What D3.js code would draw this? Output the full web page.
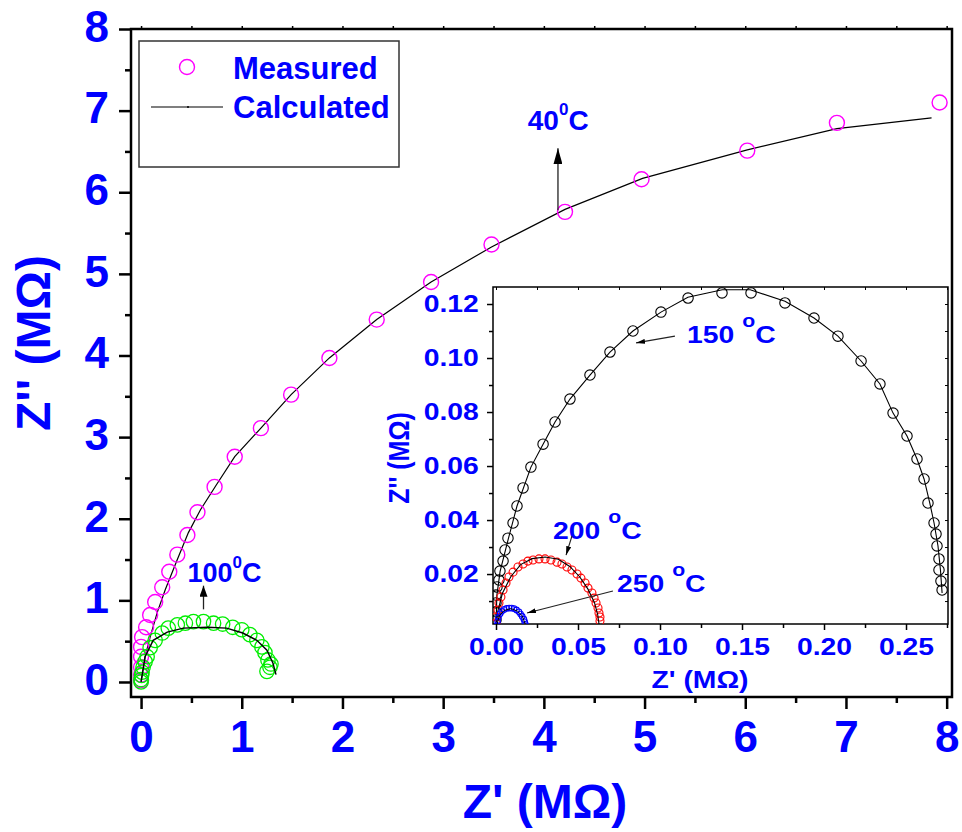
<!DOCTYPE html>
<html>
<head>
<meta charset="utf-8">
<script src="https://cdn.jsdelivr.net/npm/d3@7"></script>
<style>
  body { margin: 0; background: #fff; }
  svg text { font-family: "Liberation Sans", Arial, Helvetica, sans-serif; font-weight: bold; fill: #0000ff; }
</style>
</head>
<body>
<svg id="chart" width="962" height="832"></svg>
<script>
// ---------- Nyquist data, Z' and Z'' in MΩ ----------
// 40 °C
const meas40Re = [0.00,0.00,0.00,0.00,0.00,0.01,0.05,0.09,0.14,0.21,0.28,0.36,0.46,0.56,0.73,0.93,1.19,1.49,1.87,2.34,2.88,3.48,4.21,4.97,6.02,6.91,7.93];
const meas40Im = [0.02,0.09,0.18,0.31,0.43,0.55,0.67,0.82,0.98,1.16,1.35,1.56,1.80,2.08,2.39,2.76,3.11,3.52,3.97,4.44,4.90,5.36,5.76,6.16,6.51,6.85,7.10];
const calc40Re = [0,0.04,0.09,0.16,0.24,0.36,0.47,0.59,0.75,0.93,1.19,1.49,1.87,2.34,2.88,3.48,4.21,4.98,6.02,6.91,7.85];
const calc40Im = [0,0.31,0.55,0.85,1.13,1.50,1.83,2.11,2.42,2.76,3.11,3.52,3.97,4.44,4.90,5.33,5.79,6.17,6.52,6.78,6.91];
// 100 °C
const meas100Re = [0.00,0.00,0.005,0.01,0.02,0.04,0.06,0.09,0.14,0.21,0.27,0.36,0.44,0.52,0.62,0.72,0.81,0.91,1.00,1.08,1.15,1.20,1.23,1.26,1.28,1.29,1.25];
const meas100Im = [0.00,0.03,0.08,0.12,0.18,0.25,0.31,0.42,0.51,0.60,0.66,0.70,0.72,0.74,0.74,0.72,0.71,0.67,0.64,0.58,0.51,0.43,0.36,0.27,0.18,0.22,0.13];
const calc100Re = [0,0.04,0.12,0.26,0.42,0.66,0.85,1.01,1.15,1.25,1.31,1.34];
const calc100Im = [0,0.31,0.51,0.61,0.66,0.67,0.66,0.60,0.51,0.39,0.23,0.09];
// 150 °C (inset)
const meas150Re = [0.000,0.000,0.000,0.000,0.0006,0.0018,0.0024,0.0043,0.0055,0.0073,0.0104,0.0128,0.0165,0.0213,0.0287,0.0360,0.0451,0.0573,0.0695,0.0835,0.1006,0.1171,0.1378,0.1555,0.1762,0.1939,0.2085,0.2226,0.2341,0.2421,0.2506,0.2567,0.2610,0.2634,0.2671,0.2683,0.2689,0.2701,0.2701,0.2713,0.2720];
const meas150Im = [0.003,0.006,0.0093,0.0122,0.0152,0.0178,0.0211,0.0248,0.0289,0.0333,0.0389,0.0452,0.0519,0.0596,0.0681,0.0763,0.0848,0.0937,0.1022,0.1100,0.1170,0.1222,0.1241,0.1241,0.1204,0.1148,0.1081,0.0989,0.0904,0.0796,0.0711,0.0626,0.0552,0.0463,0.0389,0.0348,0.0304,0.0256,0.0215,0.0174,0.0141];
const calc150Re = [0,0.0005,0.0025,0.0075,0.0128,0.0213,0.0287,0.0360,0.0451,0.0573,0.0695,0.0835,0.1006,0.1170,0.1380,0.1550,0.1762,0.1939,0.2085,0.2226,0.2341,0.2421,0.2506,0.2567,0.2610,0.2645,0.2671,0.2695,0.2710,0.2720];
const calc150Im = [0,0.0120,0.0210,0.0330,0.0452,0.0596,0.0681,0.0763,0.0848,0.0937,0.1022,0.1100,0.1170,0.1225,0.1253,0.1253,0.1210,0.1148,0.1081,0.0989,0.0904,0.0796,0.0711,0.0626,0.0552,0.0463,0.0389,0.0304,0.0215,0.0130];
// 200 °C (inset)
const meas200Re = [0.000,0.000,0.0012,0.0018,0.0030,0.0043,0.0061,0.0079,0.0104,0.0134,0.0165,0.0195,0.0226,0.0262,0.0299,0.0335,0.0372,0.0402,0.0433,0.0463,0.0494,0.0518,0.0543,0.0561,0.0585,0.0598,0.0610,0.0622,0.0628,0.0634,0.0634];
const meas200Im = [0.0019,0.0041,0.0067,0.0093,0.0115,0.0141,0.0167,0.0189,0.0207,0.0226,0.0237,0.0248,0.0252,0.0256,0.0256,0.0252,0.0244,0.0237,0.0226,0.0215,0.0200,0.0185,0.0167,0.0148,0.0130,0.0111,0.0093,0.0074,0.0056,0.0041,0.0026];
const calc200Re = [0,0.001,0.004,0.009,0.015,0.022,0.030,0.038,0.045,0.051,0.056,0.060,0.062,0.0628];
const calc200Im = [0,0.006,0.013,0.019,0.0235,0.0257,0.0263,0.0255,0.0228,0.0190,0.0145,0.0095,0.0050,0.0015];
// 250 °C (inset)
const meas250Re = [0.0005,0.001,0.0015,0.0025,0.0035,0.005,0.0065,0.008,0.0095,0.011,0.0125,0.014,0.015,0.016,0.017,0.0175,0.018];
const meas250Im = [0.0010,0.0025,0.0040,0.0053,0.0062,0.0069,0.0073,0.0074,0.0074,0.0072,0.0067,0.0060,0.0052,0.0043,0.0033,0.0023,0.0013];
const calc250Re = [0,0.002,0.005,0.009,0.013,0.016,0.0178];
const calc250Im = [0,0.0045,0.0065,0.0072,0.0063,0.0045,0.0015];

// Axis ticks
const mainTicks = [0,1,2,3,4,5,6,7,8];
const mainMinor = [0.5,1.5,2.5,3.5,4.5,5.5,6.5,7.5];
const insetXTicks = [0,0.05,0.10,0.15,0.20,0.25];
const insetXMinor = [0.025,0.075,0.125,0.175,0.225,0.275];
const insetYTicks = [0.02,0.04,0.06,0.08,0.10,0.12];
const insetYMinor = [0.01,0.03,0.05,0.07,0.09,0.11];

const pts = (re, im) => re.map((v, i) => [v, im[i]]);

const svg = d3.select('#chart');
const BLUE = '#0000ff';

// arrowhead markers
const defs = svg.append('defs');
function arrowMarker(id, len, wid) {
  defs.append('marker').attr('id', id)
    .attr('markerUnits', 'userSpaceOnUse')
    .attr('viewBox', `0 0 ${len} ${wid}`)
    .attr('refX', len).attr('refY', wid / 2)
    .attr('markerWidth', len).attr('markerHeight', wid)
    .attr('orient', 'auto')
    .append('path').attr('d', `M0,0L${len},${wid/2}L0,${wid}Z`).attr('fill', '#000');
}
arrowMarker('arrowBig', 16, 9);
arrowMarker('arrowMid', 11, 8);
arrowMarker('arrowSmall', 9, 5);

// ---------- main plot ----------
const x = d3.scaleLinear().domain([-0.1, 8.053]).range([131, 952]);
const y = d3.scaleLinear().domain([-0.184, 8]).range([697, 29]);

const main = svg.append('g');

function styleAxis(g, width) {
  g.select('.domain').remove();
  g.selectAll('line').attr('stroke', '#000').attr('stroke-width', width);
}

main.append('g').attr('transform', `translate(${x.range()[0]},0)`)
  .call(d3.axisLeft(y).tickValues(mainTicks).tickSize(12).tickPadding(10).tickFormat(d3.format('d')))
  .call(g => styleAxis(g, 2.5))
  .call(g => g.selectAll('text').attr('font-size', 44).attr('dy', '0.28em').style('font-family', null));
main.append('g').attr('transform', `translate(${x.range()[0]},0)`)
  .call(d3.axisLeft(y).tickValues(mainMinor).tickSize(6).tickFormat(''))
  .call(g => styleAxis(g, 2.5));

main.append('g').attr('transform', `translate(0,${y.range()[0]})`)
  .call(d3.axisBottom(x).tickValues(mainTicks).tickSize(12).tickPadding(12).tickFormat(d3.format('d')))
  .call(g => styleAxis(g, 2.5))
  .call(g => g.selectAll('text').attr('font-size', 44));
main.append('g').attr('transform', `translate(0,${y.range()[0]})`)
  .call(d3.axisBottom(x).tickValues(mainMinor).tickSize(6).tickFormat(''))
  .call(g => styleAxis(g, 2.5));

main.append('g').attr('transform', `translate(0,${y.range()[1]})`)
  .call(d3.axisTop(x).tickValues(mainTicks.concat(mainMinor)).tickSize(3).tickFormat(''))
  .call(g => styleAxis(g, 1.5));

main.append('rect')
  .attr('x', x.range()[0]).attr('y', y.range()[1])
  .attr('width', x.range()[1] - x.range()[0]).attr('height', y.range()[0] - y.range()[1])
  .attr('fill', 'none').attr('stroke', '#000').attr('stroke-width', 2.5);

// axis titles
main.append('text').attr('x', 545).attr('y', 818).attr('text-anchor', 'middle')
  .attr('font-size', 48).text("Z' (M\u03A9)");
main.append('text').attr('transform', 'translate(50,343) rotate(-90)').attr('text-anchor', 'middle')
  .attr('font-size', 48).text("Z'' (M\u03A9)");

const lineMain = d3.line().x(d => x(d[0])).y(d => y(d[1]));

main.append('path').datum(pts(calc40Re, calc40Im)).attr('d', lineMain)
  .attr('fill', 'none').attr('stroke', '#000').attr('stroke-width', 1.2);
main.append('g').selectAll('circle').data(pts(meas40Re, meas40Im)).join('circle')
  .attr('cx', d => x(d[0])).attr('cy', d => y(d[1])).attr('r', 7.5)
  .attr('fill', 'none').attr('stroke', '#ff00ff').attr('stroke-width', 1.4);

main.append('g').selectAll('circle').data(pts(meas100Re, meas100Im)).join('circle')
  .attr('cx', d => x(d[0])).attr('cy', d => y(d[1])).attr('r', 7.2)
  .attr('fill', 'none').attr('stroke', '#00ee00').attr('stroke-width', 1.3);
main.append('path').datum(pts(calc100Re, calc100Im)).attr('d', lineMain)
  .attr('fill', 'none').attr('stroke', '#000').attr('stroke-width', 1.4);

// temperature annotations
function tempLabel(parent, px, py, num, sup, size, supSize, rise, stretch, gap) {
  const t = parent.append('text')
    .attr('transform', `translate(${px},${py}) scale(${stretch},1)`)
    .attr('font-size', size);
  t.append('tspan').text(num);
  t.append('tspan').attr('font-size', supSize).attr('dy', -rise).attr('dx', gap || 0).text(sup);
  t.append('tspan').attr('font-size', size).attr('dy', rise).text('C');
  return t;
}
function arrow(parent, x1, y1, x2, y2, marker, w) {
  parent.append('line').attr('x1', x1).attr('y1', y1).attr('x2', x2).attr('y2', y2)
    .attr('stroke', '#222').attr('stroke-width', w || 1.2).attr('marker-end', `url(#${marker})`);
}

tempLabel(main, x(3.84), y(6.76), '40', '0', 28, 17, 15, 1, 0);
arrow(main, x(4.14), y(5.78), x(4.14), y(6.54), 'arrowBig', 1.3);
tempLabel(main, x(0.46), y(1.23), '100', '0', 27, 17, 14, 1, 0);
arrow(main, x(0.62), y(0.89), x(0.62), y(1.18), 'arrowMid', 1.3);

// legend
const leg = svg.append('g');
leg.append('rect').attr('x', 139).attr('y', 41).attr('width', 260).attr('height', 126)
  .attr('fill', '#fff').attr('stroke', '#333').attr('stroke-width', 1.5);
leg.append('circle').attr('cx', 187).attr('cy', 67).attr('r', 7.5)
  .attr('fill', 'none').attr('stroke', '#ff00ff').attr('stroke-width', 1.4);
leg.append('line').attr('x1', 151).attr('x2', 223).attr('y1', 107).attr('y2', 107)
  .attr('stroke', '#555').attr('stroke-width', 1.5);
leg.append('circle').attr('cx', 188).attr('cy', 107).attr('r', 1).attr('fill', '#000');
leg.append('text').attr('x', 233).attr('y', 79).attr('font-size', 31).text('Measured');
leg.append('text').attr('x', 233).attr('y', 118).attr('font-size', 31).text('Calculated');

// ---------- inset ----------
const xi = d3.scaleLinear().domain([-0.00183, 0.2756]).range([493, 948]);
const yi = d3.scaleLinear().domain([0.0015, 0.1263]).range([624, 287]);
const K = 1.18; // horizontal stretch of inset lettering

const inset = svg.append('g');
inset.append('rect')
  .attr('x', xi.range()[0]).attr('y', yi.range()[1])
  .attr('width', xi.range()[1] - xi.range()[0]).attr('height', yi.range()[0] - yi.range()[1])
  .attr('fill', '#fff');

defs.append('clipPath').attr('id', 'insetClip').append('rect')
  .attr('x', xi.range()[0]).attr('y', yi.range()[1])
  .attr('width', xi.range()[1] - xi.range()[0]).attr('height', yi.range()[0] - yi.range()[1]);

inset.append('g').attr('transform', `translate(${xi.range()[0]},0)`)
  .call(d3.axisLeft(yi).tickValues(insetYTicks).tickSize(6).tickPadding(6).tickFormat(d3.format('.2f')))
  .call(g => styleAxis(g, 1.5))
  .call(g => g.selectAll('text').attr('font-size', 24).attr('transform', `scale(${K},1)`));
inset.append('g').attr('transform', `translate(${xi.range()[0]},0)`)
  .call(d3.axisLeft(yi).tickValues(insetYMinor).tickSize(4).tickFormat(''))
  .call(g => styleAxis(g, 1.5));
inset.append('g').attr('transform', `translate(0,${yi.range()[0]})`)
  .call(d3.axisBottom(xi).tickValues(insetXTicks).tickSize(6).tickPadding(8).tickFormat(d3.format('.2f')))
  .call(g => styleAxis(g, 1.5))
  .call(g => g.selectAll('text').attr('font-size', 24).attr('transform', `scale(${K},1)`));
inset.append('g').attr('transform', `translate(0,${yi.range()[0]})`)
  .call(d3.axisBottom(xi).tickValues(insetXMinor).tickSize(4).tickFormat(''))
  .call(g => styleAxis(g, 1.5));
inset.append('g').attr('transform', `translate(0,${yi.range()[1]})`)
  .call(d3.axisBottom(xi).tickValues(insetXTicks.concat(insetXMinor)).tickSize(3).tickFormat(''))
  .call(g => styleAxis(g, 1));
inset.append('g').attr('transform', `translate(${xi.range()[1]},0)`)
  .call(d3.axisLeft(yi).tickValues(insetYTicks.concat(insetYMinor)).tickSize(3).tickFormat(''))
  .call(g => styleAxis(g, 1));

inset.append('rect')
  .attr('x', xi.range()[0]).attr('y', yi.range()[1])
  .attr('width', xi.range()[1] - xi.range()[0]).attr('height', yi.range()[0] - yi.range()[1])
  .attr('fill', 'none').attr('stroke', '#000').attr('stroke-width', 1.5);

inset.append('text').attr('transform', `translate(700,688) scale(${K},1)`).attr('text-anchor', 'middle')
  .attr('font-size', 24).text("Z' (M\u03A9)");
inset.append('text').attr('transform', 'translate(409,458) rotate(-90) scale(1,1.15)').attr('text-anchor', 'middle')
  .attr('font-size', 25).text("Z'' (M\u03A9)");

const lineInset = d3.line().x(d => xi(d[0])).y(d => yi(d[1]));
const plotI = inset.append('g').attr('clip-path', 'url(#insetClip)');

plotI.append('g').selectAll('circle').data(pts(meas150Re, meas150Im)).join('circle')
  .attr('cx', d => xi(d[0])).attr('cy', d => yi(d[1])).attr('r', 5.2)
  .attr('fill', 'none').attr('stroke', '#000').attr('stroke-width', 1.1);
plotI.append('path').datum(pts(calc150Re, calc150Im)).attr('d', lineInset)
  .attr('fill', 'none').attr('stroke', '#000').attr('stroke-width', 1.1);

plotI.append('g').selectAll('circle').data(pts(meas200Re, meas200Im)).join('circle')
  .attr('cx', d => xi(d[0])).attr('cy', d => yi(d[1])).attr('r', 4)
  .attr('fill', 'none').attr('stroke', '#ff0000').attr('stroke-width', 1.1);
plotI.append('path').datum(pts(calc200Re, calc200Im)).attr('d', lineInset)
  .attr('fill', 'none').attr('stroke', '#000').attr('stroke-width', 1.1);

plotI.append('g').selectAll('circle').data(pts(meas250Re, meas250Im)).join('circle')
  .attr('cx', d => xi(d[0])).attr('cy', d => yi(d[1])).attr('r', 2.8)
  .attr('fill', 'none').attr('stroke', BLUE).attr('stroke-width', 1.1);
plotI.append('path').datum(pts(calc250Re, calc250Im)).attr('d', lineInset)
  .attr('fill', 'none').attr('stroke', '#000').attr('stroke-width', 1);

tempLabel(inset, xi(0.1165), yi(0.1056), '150 ', 'o', 24, 18, 16, K, 0);
arrow(inset, xi(0.1091), yi(0.1081), xi(0.0854), yi(0.1056), 'arrowSmall', 1.1);
tempLabel(inset, xi(0.0348), yi(0.0330), '200 ', 'o', 24, 18, 16, K, 0);
arrow(inset, xi(0.0463), yi(0.0341), xi(0.0427), yi(0.0270), 'arrowSmall', 1.1);
tempLabel(inset, xi(0.0738), yi(0.0133), '250 ', 'o', 24, 18, 16, K, 0);
arrow(inset, xi(0.0713), yi(0.0137), xi(0.0189), yi(0.0056), 'arrowSmall', 1.1);
</script>
</body>
</html>
